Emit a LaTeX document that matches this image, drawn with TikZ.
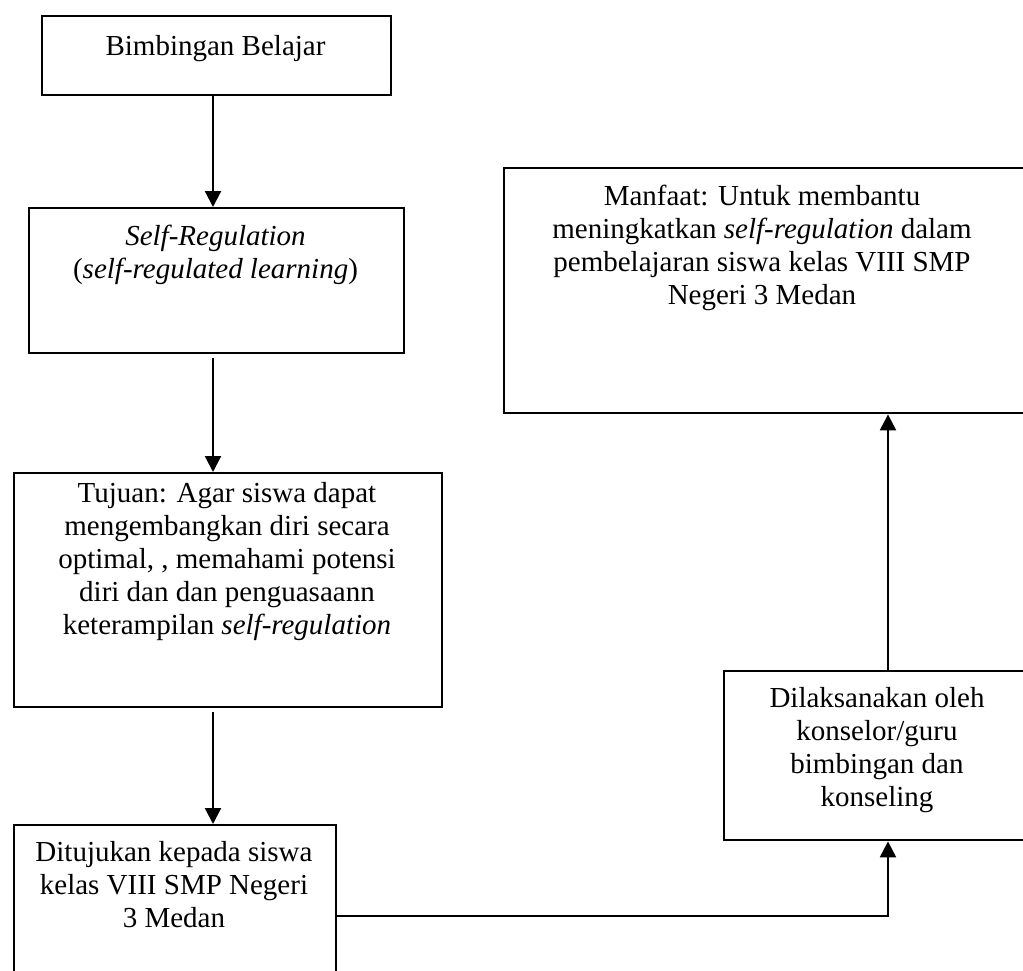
\documentclass[tikz,border=0pt]{standalone}
\usepackage{fontspec}
\setmainfont{Liberation Serif}
\usetikzlibrary{arrows.meta}
\begin{document}
\begin{tikzpicture}[x=1pt,y=-1pt,
  box/.style={draw=black,line width=2.4pt,rectangle,anchor=north west,inner sep=0pt},
  txt/.style={anchor=north,inner sep=0pt,align=center,font=\fontsize{29}{33}\selectfont},
  arr/.style={draw=black,line width=2.2pt,-{Triangle[length=16pt,width=16pt]}}]
\useasboundingbox (0,0) rectangle (1023,970);
\clip (0,0) rectangle (1023,970);
% boxes
\node[box,minimum width=349pt,minimum height=79pt] (b1) at (41,15) {};
\node[box,minimum width=375pt,minimum height=145pt] (b2) at (28,207) {};
\node[box,minimum width=428pt,minimum height=234pt] (b3) at (13,472) {};
\node[box,minimum width=322pt,minimum height=182pt] (b4) at (13,824) {};
\node[box,minimum width=308pt,minimum height=169pt] (b5) at (723,670) {};
\node[box,minimum width=522pt,minimum height=245pt] (b6) at (503,167) {};
% texts
\node[txt] (t1) at (215.5,35) {Bimbingan Belajar};
\node[txt] (t2) at (215.5,225) {\textit{Self-Regulation}\\(\textit{self-regulated learning})};
\node[txt] (t3) at (227,482) {Tujuan: Agar siswa dapat\\mengembangkan diri secara\\optimal, , memahami potensi\\diri dan dan penguasaann\\keterampilan \textit{self-regulation}};
\node[txt] (t4) at (174,841) {Ditujukan kepada siswa\\kelas VIII SMP Negeri\\3 Medan};
\node[txt] (t5) at (877,687) {Dilaksanakan oleh\\konselor/guru\\bimbingan dan\\konseling};
\node[txt] (t6) at (762,185) {Manfaat: Untuk membantu\\meningkatkan \textit{self-regulation} dalam\\pembelajaran siswa kelas VIII SMP\\Negeri 3 Medan};
% connectors
\coordinate (xl) at (213,0);
\coordinate (xa) at (888,0);
\draw[arr] (xl |- b1.south) -- (xl |- b2.north);
\draw[arr,shorten <=4pt] (xl |- b2.south) -- (xl |- b3.north);
\draw[arr,shorten <=4pt] (xl |- b3.south) -- (xl |- b4.north);
\draw[arr] (b4.east) -| (xa |- b5.south);
\draw[arr] (xa |- b5.north) -- (xa |- b6.south);
\end{tikzpicture}
\end{document}
